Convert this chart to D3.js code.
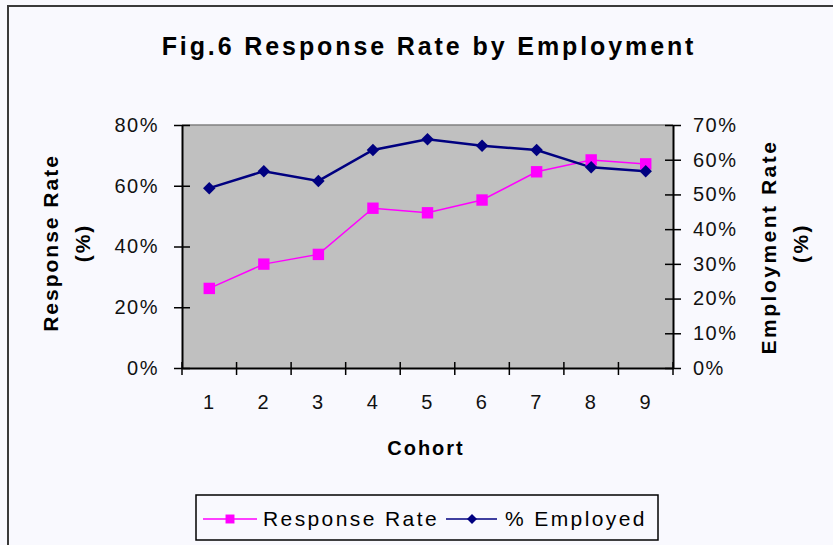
<!DOCTYPE html>
<html>
<head>
<meta charset="utf-8">
<script src="https://cdn.jsdelivr.net/npm/d3@7"></script>
<style>
  body { margin: 0; background: #f9f9fe; }
  svg { display: block; font-family: "Liberation Sans", Arial, sans-serif; }
</style>
</head>
<body>
<svg id="chart"></svg>
<script>
// chart data
var cohorts = [1, 2, 3, 4, 5, 6, 7, 8, 9];
var responseRate = [26.2, 34.2, 37.4, 52.6, 51.1, 55.3, 64.6, 68.5, 67.2];
var employed = [51.8, 56.7, 53.9, 62.8, 65.9, 64.0, 62.8, 57.8, 56.7];
var leftTicks = [0, 20, 40, 60, 80];
var rightTicks = [0, 10, 20, 30, 40, 50, 60, 70];

var W = 833, H = 545;
var plot = {left: 182, top: 125, right: 673, bottom: 368};

var svg = d3.select("#chart").attr("width", W).attr("height", H);

// background + outer frame
svg.append("rect").attr("width", W).attr("height", H).attr("fill", "#f9f9fe");
svg.append("rect")
    .attr("x", 8).attr("y", 6).attr("width", W + 20).attr("height", H + 20)
    .attr("fill", "none").attr("stroke", "#3a3a3a").attr("stroke-width", 2);

// title
svg.append("text")
    .attr("x", 429).attr("y", 55)
    .attr("text-anchor", "middle")
    .style("font-size", "25px").style("font-weight", "bold")
    .style("letter-spacing", "2.9px")
    .text("Fig.6 Response Rate by Employment");

// scales
var x = d3.scaleBand().domain(cohorts).range([plot.left, plot.right]).padding(0);
var yL = d3.scaleLinear().domain([0, 80]).range([plot.bottom, plot.top]);
var yR = d3.scaleLinear().domain([0, 70]).range([plot.bottom, plot.top]);

// plot area
svg.append("rect")
    .attr("x", plot.left).attr("y", plot.top)
    .attr("width", plot.right - plot.left).attr("height", plot.bottom - plot.top)
    .attr("fill", "#c0c0c0");
svg.append("line")
    .attr("x1", plot.left).attr("x2", plot.right)
    .attr("y1", plot.top).attr("y2", plot.top)
    .attr("stroke", "#808080").attr("stroke-width", 1.5);

// left axis
var gL = svg.append("g").attr("transform", "translate(" + plot.left + ",0)")
    .call(d3.axisLeft(yL).tickValues(leftTicks).tickFormat(function(d) { return d + "%"; })
        .tickSizeInner(8).tickSizeOuter(0).tickPadding(15));
gL.selectAll(".tick line").attr("x2", 8).attr("x1", -8).attr("stroke-width", 1.5);

// right axis
var gR = svg.append("g").attr("transform", "translate(" + plot.right + ",0)")
    .call(d3.axisRight(yR).tickValues(rightTicks).tickFormat(function(d) { return d + "%"; })
        .tickSizeInner(8).tickSizeOuter(0).tickPadding(12));
gR.selectAll(".tick line").attr("x1", -8).attr("x2", 8).attr("stroke-width", 1.5);

// bottom axis: ticks at category boundaries
var gB = svg.append("g").attr("transform", "translate(0," + plot.bottom + ")")
    .call(d3.axisBottom(x).tickSize(0).tickPadding(27));
var bounds = cohorts.map(function(d) { return x(d); }).concat([plot.right]);
gB.selectAll(".bound").data(bounds).enter().append("line")
    .attr("x1", function(d) { return d; }).attr("x2", function(d) { return d; })
    .attr("y1", -6).attr("y2", 7).attr("stroke", "#000").attr("stroke-width", 1.5);

svg.selectAll(".domain").attr("stroke", "#000").attr("stroke-width", 2);
svg.selectAll(".tick text")
    .style("font-size", "20px").style("letter-spacing", "1.5px").attr("fill", "#111");

// axis titles
svg.append("text")
    .attr("x", 426).attr("y", 455).attr("text-anchor", "middle")
    .style("font-size", "20px").style("font-weight", "bold").style("letter-spacing", "2px")
    .text("Cohort");

var lt = svg.append("text").attr("transform", "translate(58,243) rotate(-90)")
    .attr("text-anchor", "middle").style("font-size", "21px").style("font-weight", "bold")
    .style("letter-spacing", "2px");
lt.append("tspan").attr("x", 0).attr("dy", 0).text("Response Rate");
lt.append("tspan").attr("x", 0).attr("dy", 32).text("(%)");

var rt = svg.append("text").attr("transform", "translate(776,247) rotate(-90)")
    .attr("text-anchor", "middle").style("font-size", "21px").style("font-weight", "bold")
    .style("letter-spacing", "2.5px");
rt.append("tspan").attr("x", 0).attr("dy", 0).text("Employment Rate");
rt.append("tspan").attr("x", 4).attr("dy", 32).text("(%)");

// lines
function cx(d, i) { return x(cohorts[i]) + x.bandwidth() / 2; }
var lineR = d3.line().x(function(d, i) { return cx(d, i); }).y(function(d) { return yL(d); });
var lineE = d3.line().x(function(d, i) { return cx(d, i); }).y(function(d) { return yR(d); });

svg.append("path").datum(responseRate).attr("d", lineR)
    .attr("fill", "none").attr("stroke", "#ff00ff").attr("stroke-width", 1.5);
svg.append("path").datum(employed).attr("d", lineE)
    .attr("fill", "none").attr("stroke", "#000080").attr("stroke-width", 2.5);

var sq = d3.symbol().type(d3.symbolSquare).size(130);
var dm = d3.symbol().type(d3.symbolSquare).size(78);

svg.selectAll(".rr").data(responseRate).enter().append("path")
    .attr("d", sq)
    .attr("transform", function(d, i) { return "translate(" + cx(d, i) + "," + yL(d) + ")"; })
    .attr("fill", "#ff00ff");
svg.selectAll(".em").data(employed).enter().append("path")
    .attr("d", dm)
    .attr("transform", function(d, i) { return "translate(" + cx(d, i) + "," + yR(d) + ") rotate(45)"; })
    .attr("fill", "#000080");

// legend
var lg = svg.append("g");
lg.append("rect").attr("x", 196).attr("y", 495).attr("width", 462).attr("height", 45)
    .attr("fill", "#f9f9fe").attr("stroke", "#000").attr("stroke-width", 1.5);
lg.append("line").attr("x1", 203).attr("x2", 257).attr("y1", 519).attr("y2", 519)
    .attr("stroke", "#ff00ff").attr("stroke-width", 1.5);
lg.append("path").attr("d", d3.symbol().type(d3.symbolSquare).size(80))
    .attr("transform", "translate(230,519)").attr("fill", "#ff00ff");
lg.append("text").attr("x", 263).attr("y", 526).style("font-size", "21px")
    .style("letter-spacing", "2.4px").text("Response Rate");
lg.append("line").attr("x1", 446).attr("x2", 497).attr("y1", 519).attr("y2", 519)
    .attr("stroke", "#000080").attr("stroke-width", 1.5);
lg.append("path").attr("d", d3.symbol().type(d3.symbolSquare).size(50))
    .attr("transform", "translate(472,519) rotate(45)").attr("fill", "#000080");
lg.append("text").attr("x", 505).attr("y", 526).style("font-size", "21px")
    .style("letter-spacing", "2.4px").text("% Employed");
</script>
</body>
</html>
